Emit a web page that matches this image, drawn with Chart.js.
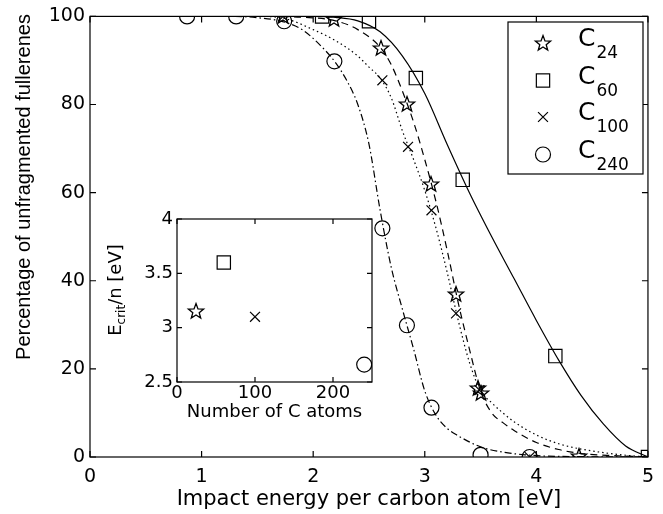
<!DOCTYPE html>
<html><head><meta charset="utf-8">
<script src="https://cdn.jsdelivr.net/npm/chart.js@4.4.1/dist/chart.umd.min.js"></script>
<style>
html,body{margin:0;padding:0;background:#fff;}
#wrap{position:relative;width:663px;height:514px;overflow:hidden;}
#main{position:absolute;left:0;top:0;}
#inset{position:absolute;left:100px;top:200px;}
</style></head><body>
<div id="wrap"><canvas id="main" width="663" height="514"></canvas><canvas id="inset" width="290" height="230"></canvas></div>
<script>
// ---------- data ----------
const energyTicks  = [0, 1, 2, 3, 4, 5];
const percentTicks = [0, 20, 40, 60, 80, 100];
const seriesNames  = ['24', '60', '100', '240'];   // subscripts of C

// measured points
const c24E  = [1.73, 2.19, 2.61, 2.84, 3.06, 3.28, 3.48, 3.50, 4.38];
const c24P  = [100, 99.3, 92.8, 80.1, 62.0, 36.9, 15.6, 14.6, 0.3];
const c60E  = [2.08, 2.50, 2.92, 3.34, 4.17, 5.00];
const c60P  = [100, 98.9, 86.0, 62.9, 22.9, 0];
const c100E = [1.73, 2.62, 2.85, 3.06, 3.28, 3.49, 3.94];
const c100P = [100, 85.5, 70.4, 56.0, 32.6, 15.2, 0];
const c240E = [0.87, 1.31, 1.74, 2.19, 2.62, 2.84, 3.06, 3.50, 3.94];
const c240P = [100, 100, 98.9, 89.8, 51.9, 29.9, 11.2, 0.5, 0];

// fitted curves
const fit24E  = [0, 1.6, 1.9, 2.2, 2.4, 2.6, 2.7, 2.8, 2.9, 3.0, 3.1, 3.2, 3.3, 3.4, 3.5, 3.6, 3.7, 3.8, 4.0, 4.2, 4.4, 4.7, 5.0];
const fit24P  = [100, 100, 99.8, 99, 97, 93, 89, 83, 76, 67.5, 58, 47, 35, 24.5, 15, 10, 7.8, 6, 3.3, 1.7, 0.8, 0.3, 0];
const fit60E  = [0, 2.0, 2.2, 2.4, 2.6, 2.8, 3.0, 3.2, 3.4, 3.6, 3.8, 4.0, 4.2, 4.4, 4.6, 4.8, 5.0];
const fit60P  = [100, 100, 99.8, 99, 96.5, 91, 82.5, 71, 60, 50, 40.5, 31, 22, 14, 7.5, 2.5, 0];
const fit100E = [0, 1.5, 1.75, 2.0, 2.2, 2.4, 2.5, 2.6, 2.7, 2.8, 2.9, 3.0, 3.1, 3.2, 3.3, 3.4, 3.5, 3.6, 3.7, 3.8, 4.0, 4.2, 4.4, 4.6, 4.8, 5.0];
const fit100P = [100, 100, 99.5, 97, 94.5, 91, 88.5, 86, 81.5, 74, 67.5, 60.5, 52, 42, 31, 21.5, 15, 12.3, 10, 8, 5, 3, 1.8, 1, 0.4, 0];
const fit240E = [0, 1.3, 1.5, 1.7, 1.9, 2.1, 2.2, 2.3, 2.4, 2.5, 2.6, 2.7, 2.8, 2.9, 3.0, 3.1, 3.2, 3.3, 3.5, 3.7, 3.9, 4.1, 5.0];
const fit240P = [100, 100, 99.7, 99, 97, 92.5, 89.5, 85.5, 80, 71, 56, 43, 33.5, 24.5, 15, 9.5, 6.5, 4.8, 2.3, 1.1, 0.5, 0.2, 0];

// inset
const insetAtoms = [24, 60, 100, 240];
const insetEcrit = [3.15, 3.6, 3.1, 2.66];
const insetXTicks = [0, 100, 200];
const insetYTicks = [2.5, 3, 3.5, 4];

const xTitle = 'Impact energy per carbon atom [eV]';
const yTitle = 'Percentage of unfragmented fullerenes';
const insetXTitle = 'Number of C atoms';

// ---------- helpers ----------
const pts = (xs, ys) => xs.map((v, i) => ({x: v, y: ys[i]}));
function makeStar(R) {
  const s = Math.ceil(R * 2 + 4);
  const c = document.createElement('canvas'); c.width = s; c.height = s;
  const g = c.getContext('2d');
  g.strokeStyle = '#000'; g.lineWidth = 1.3; g.lineJoin = 'miter';
  g.beginPath();
  for (let i = 0; i < 10; i++) {
    const r = i % 2 ? R * 0.42 : R;
    const a = -Math.PI / 2 + i * Math.PI / 5;
    const px = s / 2 + r * Math.cos(a), py = s / 2 + 0.6 + r * Math.sin(a);
    i ? g.lineTo(px, py) : g.moveTo(px, py);
  }
  g.closePath(); g.stroke();
  return c;
}
const starImg = makeStar(8);
const markerStyles = [
  {pointStyle: starImg, radius: 8},
  {pointStyle: 'rect', radius: 9.4},
  {pointStyle: 'crossRot', radius: 7},
  {pointStyle: 'circle', radius: 7.5}
];
const lineDashes = [[7, 5], [], [1.5, 3], [7, 3, 1.5, 3]];

function drawMarker(ctx, i, x, y) {
  ctx.save(); ctx.strokeStyle = '#000'; ctx.lineWidth = 1.2;
  if (i === 0) ctx.drawImage(starImg, Math.round(x - starImg.width / 2), Math.round(y - starImg.height / 2));
  else if (i === 1) { const h = 9.4 * Math.SQRT1_2; ctx.strokeRect(x - h, y - h, 2 * h, 2 * h); }
  else if (i === 2) { const h = 7 * Math.SQRT1_2; ctx.beginPath(); ctx.moveTo(x - h, y - h); ctx.lineTo(x + h, y + h); ctx.moveTo(x + h, y - h); ctx.lineTo(x - h, y + h); ctx.stroke(); }
  else { ctx.beginPath(); ctx.arc(x, y, 7.5, 0, Math.PI * 2); ctx.stroke(); }
  ctx.restore();
}

const frameTicks = {
  id: 'frameTicks',
  beforeDraw(chart, args, o) {
    chart.ctx.imageSmoothingEnabled = false;
    if (!o.fill) return;
    const {ctx, chartArea: a} = chart;
    ctx.save(); ctx.fillStyle = '#fff'; ctx.fillRect(a.left, a.top, a.right - a.left, a.bottom - a.top); ctx.restore();
  },
  beforeDatasetsDraw(chart) { chart.ctx.imageSmoothingEnabled = false; },
  afterDatasetsDraw(chart, args, o) {
    const {ctx, chartArea: a, scales: {x, y}} = chart;
    ctx.save(); ctx.strokeStyle = '#000'; ctx.lineWidth = 1.2;
    ctx.strokeRect(a.left, a.top, a.right - a.left, a.bottom - a.top);
    ctx.beginPath();
    for (const v of o.xt) { const p = x.getPixelForValue(v); ctx.moveTo(p, a.bottom); ctx.lineTo(p, a.bottom - o.len); ctx.moveTo(p, a.top); ctx.lineTo(p, a.top + o.len); }
    for (const v of o.yt) { const p = y.getPixelForValue(v); ctx.moveTo(a.left, p); ctx.lineTo(a.left + o.len, p); ctx.moveTo(a.right, p); ctx.lineTo(a.right - o.len, p); }
    ctx.stroke(); ctx.restore();
  }
};

const mainDecor = {
  id: 'mainDecor',
  afterDraw(chart) {
    const {ctx, chartArea: a} = chart;
    ctx.save(); ctx.fillStyle = '#000';
    ctx.font = '21px "DejaVu Sans"'; ctx.textAlign = 'center'; ctx.textBaseline = 'alphabetic';
    ctx.fillText(xTitle, (a.left + a.right) / 2, 505);
    ctx.save(); ctx.translate(30, 187); ctx.rotate(-Math.PI / 2);
    ctx.font = '20px "Liberation Sans"'; ctx.fillText(yTitle, 0, 0); ctx.restore();
    // legend
    const L = 508, T = 22, R = 643, B = 174;
    ctx.fillStyle = '#fff'; ctx.fillRect(L, T, R - L, B - T);
    ctx.strokeStyle = '#000'; ctx.lineWidth = 1.2; ctx.strokeRect(L, T, R - L, B - T);
    const rows = [43, 80.5, 117, 154.5];
    seriesNames.forEach((n, i) => {
      drawMarker(ctx, i, 543, rows[i]);
      ctx.fillStyle = '#000'; ctx.textAlign = 'left';
      ctx.font = '25px "DejaVu Sans"'; ctx.fillText('C', 578, rows[i] + 3);
      const w = ctx.measureText('C').width;
      ctx.font = '17px "DejaVu Sans"'; ctx.fillText(n, 578 + w + 1, rows[i] + 15);
    });
    ctx.restore();
  }
};

const tickFont = {family: 'DejaVu Sans', size: 19};
const blank = {display: false};
const plainLabel = v => String(v);

const mainDatasets = [];
const fitsE = [fit24E, fit60E, fit100E, fit240E], fitsP = [fit24P, fit60P, fit100P, fit240P];
const ptsE = [c24E, c60E, c100E, c240E], ptsP = [c24P, c60P, c100P, c240P];
for (let i = 0; i < 4; i++) {
  mainDatasets.push({data: pts(fitsE[i], fitsP[i]), showLine: true, borderColor: '#000', borderWidth: 1.2,
    borderDash: lineDashes[i], pointRadius: 0, cubicInterpolationMode: 'monotone', fill: false});
}
for (let i = 0; i < 4; i++) {
  mainDatasets.push({data: pts(ptsE[i], ptsP[i]), showLine: false, borderColor: '#000', backgroundColor: 'rgba(0,0,0,0)',
    pointBorderWidth: 1.2, pointStyle: markerStyles[i].pointStyle, pointRadius: markerStyles[i].radius});
}

new Chart(document.getElementById('main'), {
  type: 'scatter',
  data: {datasets: mainDatasets},
  options: {
    responsive: false, animation: false, devicePixelRatio: 1,
    layout: {padding: {top: 15, right: 14, left: 0, bottom: 0}},
    plugins: {legend: blank, tooltip: {enabled: false}, frameTicks: {xt: energyTicks, yt: percentTicks, len: 6}},
    scales: {
      x: {type: 'linear', min: 0, max: 5,
        afterBuildTicks: s => { s.ticks = energyTicks.map(v => ({value: v})); },
        afterFit: s => { s.height = 57; },
        grid: {display: false, drawTicks: false}, border: {display: false},
        ticks: {font: tickFont, color: '#000', padding: 9, maxRotation: 0, callback: plainLabel}},
      y: {type: 'linear', min: 0, max: 100,
        afterBuildTicks: s => { s.ticks = percentTicks.map(v => ({value: v})); },
        afterFit: s => { s.width = 90; },
        grid: {display: false, drawTicks: false}, border: {display: false},
        ticks: {font: tickFont, color: '#000', padding: 5, callback: plainLabel}}
    }
  },
  plugins: [frameTicks, mainDecor]
});

// ---------- inset ----------
const insetDecor = {
  id: 'insetDecor',
  afterDraw(chart) {
    const {ctx, chartArea: a} = chart;
    ctx.save(); ctx.fillStyle = '#000';
    ctx.font = '18px "DejaVu Sans"'; ctx.textAlign = 'center'; ctx.textBaseline = 'alphabetic';
    ctx.fillText(insetXTitle, (a.left + a.right) / 2, 217);
    // rotated y label with subscript
    ctx.translate(21, 90); ctx.rotate(-Math.PI / 2);
    ctx.textAlign = 'left';
    ctx.font = '18px "DejaVu Sans"'; const wE = ctx.measureText('E').width;
    ctx.font = '12px "DejaVu Sans"'; const wS = ctx.measureText('crit').width;
    ctx.font = '18px "DejaVu Sans"'; const wR = ctx.measureText('/n [eV]').width;
    let x0 = -(wE + wS + wR) / 2;
    ctx.fillText('E', x0, 0);
    ctx.font = '12px "DejaVu Sans"'; ctx.fillText('crit', x0 + wE, 4);
    ctx.font = '18px "DejaVu Sans"'; ctx.fillText('/n [eV]', x0 + wE + wS, 0);
    ctx.restore();
  }
};

const insetDatasets = insetAtoms.map((n, i) => ({
  data: [{x: n, y: insetEcrit[i]}], showLine: false, borderColor: '#000', backgroundColor: 'rgba(0,0,0,0)',
  pointBorderWidth: 1.2, pointStyle: markerStyles[i].pointStyle, pointRadius: markerStyles[i].radius
}));

new Chart(document.getElementById('inset'), {
  type: 'scatter',
  data: {datasets: insetDatasets},
  options: {
    responsive: false, animation: false, devicePixelRatio: 1,
    layout: {padding: {top: 19, right: 18, left: 0, bottom: 0}},
    plugins: {legend: blank, tooltip: {enabled: false}, frameTicks: {xt: insetXTicks, yt: insetYTicks, len: 5, fill: true}},
    scales: {
      x: {type: 'linear', min: 0, max: 250,
        afterBuildTicks: s => { s.ticks = insetXTicks.map(v => ({value: v})); },
        afterFit: s => { s.height = 48; },
        grid: {display: false, drawTicks: false}, border: {display: false},
        ticks: {font: {family: 'DejaVu Sans', size: 18}, color: '#000', padding: 1, maxRotation: 0, callback: plainLabel}},
      y: {type: 'linear', min: 2.5, max: 4,
        afterBuildTicks: s => { s.ticks = insetYTicks.map(v => ({value: v})); },
        afterFit: s => { s.width = 77; },
        grid: {display: false, drawTicks: false}, border: {display: false},
        ticks: {font: {family: 'DejaVu Sans', size: 18}, color: '#000', padding: 4, callback: plainLabel}}
    }
  },
  plugins: [frameTicks, insetDecor]
});
</script>
</body></html>
